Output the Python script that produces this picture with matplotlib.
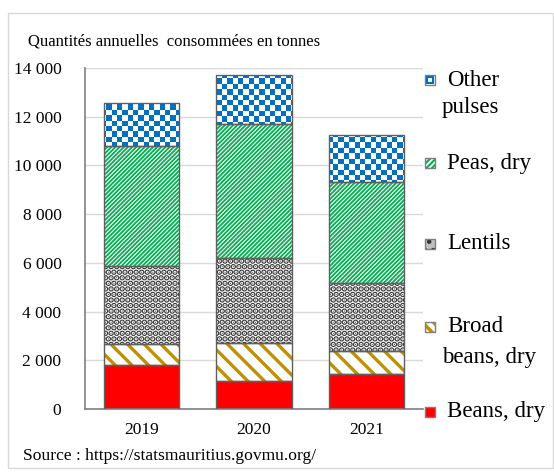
import numpy as np
import matplotlib
matplotlib.use('Agg')
import matplotlib.pyplot as plt
from matplotlib.colors import ListedColormap
from matplotlib.patches import Rectangle
from matplotlib.ticker import FuncFormatter

years   = ['2019', '2020', '2021']
beans   = [1800, 1150, 1430]
broad   = [870, 1545, 960]
lentils = [3200, 3500, 2765]
peas    = [4910, 5525, 4185]
other   = [1790, 1980, 1900]
yticks  = [0, 2000, 4000, 6000, 8000, 10000, 12000, 14000]

plt.rcParams['font.family'] = 'Liberation Serif'
W, H = 554, 475
fig = plt.figure(figsize=(W/100, H/100), dpi=100)
fx = lambda px: px/W
fy = lambda py: 1 - py/H

ax = fig.add_axes([fx(85), fy(409), fx(423)-fx(85), fy(68)-fy(409)])
x = np.arange(len(years)); bw = 0.667; EDGE = '#5f5f5f'

b0 = np.zeros(3)
# beans, solid red
ax.bar(x, beans, bw, bottom=b0, color='#ff0000', lw=0, zorder=2)
ax.bar(x, beans, bw, bottom=b0, fill=False, ec=EDGE, lw=1, zorder=4)
b1 = b0 + beans
plt.rcParams['hatch.linewidth'] = 2.4
ax.bar(x, broad, bw, bottom=b1, color='white', ec='#bf9000', hatch='\\\\', lw=0, zorder=2)
ax.bar(x, broad, bw, bottom=b1, fill=False, ec=EDGE, lw=1, zorder=4)
b2 = b1 + broad
plt.rcParams['hatch.linewidth'] = 3.0
ax.bar(x, lentils, bw, bottom=b2, color='white', ec='#3a3a3a', hatch='...', lw=0, zorder=2)
ax.bar(x, lentils, bw, bottom=b2, fill=False, ec=EDGE, lw=1, zorder=4)
b3 = b2 + lentils
plt.rcParams['hatch.linewidth'] = 1.3
ax.bar(x, peas, bw, bottom=b3, color='white', ec='#00b050', hatch='////////', lw=0, zorder=2)
ax.bar(x, peas, bw, bottom=b3, fill=False, ec=EDGE, lw=1, zorder=4)
b4 = b3 + peas
obars = ax.bar(x, other, bw, bottom=b4, color='white', lw=0, zorder=2)
ax.bar(x, other, bw, bottom=b4, fill=False, ec=EDGE, lw=1, zorder=4)

# checkerboard fill for "Other pulses"
chk = np.indices((64, 64)).sum(0) % 2
for p in obars:
    im = ax.imshow(chk, cmap=ListedColormap(['white', '#0070c0']), extent=(-0.5, 2.5, 0, 14000),
                   aspect='auto', interpolation='nearest', zorder=3)
    im.set_clip_path(p)

ax.set_xlim(-0.5, 2.5); ax.set_ylim(0, 14000)
ax.set_xticks(x); ax.set_xticklabels(years)
ax.set_yticks(yticks)
ax.yaxis.set_major_formatter(FuncFormatter(lambda v, p: f'{int(v):,}'.replace(',', ' ')))
ax.tick_params(axis='y', length=0, pad=17, labelsize=12.5)
ax.tick_params(axis='x', length=0, pad=9, labelsize=12.5)
ax.grid(axis='y', color='#d9d9d9', lw=1, zorder=0)
ax.set_axisbelow(True)
for s in ['top', 'right']: ax.spines[s].set_visible(False)
for s in ['left', 'bottom']: ax.spines[s].set_color('#808080'); ax.spines[s].set_linewidth(1.2)

# outer frame
fig.add_artist(Rectangle((fx(8), fy(468)), fx(553)-fx(8), fy(13)-fy(468), transform=fig.transFigure,
                         fill=False, ec='#d9d9d9', lw=1))

fig.text(fx(28), fy(42), 'Quantités annuelles  consommées en tonnes', fontsize=12, va='center', ha='left')
fig.text(fx(23), fy(456), 'Source : https://statsmauritius.govmu.org/', fontsize=12.6, va='center', ha='left')

# legend, drawn by hand
def marker(yc, fc, ec, hatch=None, hlw=1.0):
    plt.rcParams['hatch.linewidth'] = hlw
    fig.add_artist(Rectangle((fx(425), fy(yc+5)), fx(10), fy(0)-fy(10), transform=fig.transFigure,
                             fc=fc, ec=ec, hatch=hatch, lw=0))
    fig.add_artist(Rectangle((fx(425), fy(yc+5)), fx(10), fy(0)-fy(10), transform=fig.transFigure,
                             fill=False, ec='#7f7f7f', lw=1))

marker(80, 'white', '#0070c0')
fig.add_artist(Rectangle((fx(427), fy(83)), fx(6), fy(0)-fy(6), transform=fig.transFigure, fill=False, ec='#0070c0', lw=1.5))
marker(163, 'white', '#00b050', '//////', 1.5)
marker(244, '#c0c0c0', '#303030', '..', 2.0)
marker(327, 'white', '#bf9000', '\\\\\\', 2.5)
marker(412, '#ff0000', '#ff0000')

LFS = 16.5
fig.text(fx(447), fy(80), 'Other', fontsize=LFS, va='center')
fig.text(fx(442), fy(108), 'pulses', fontsize=LFS, va='center')
fig.text(fx(447), fy(163), 'Peas, dry', fontsize=LFS, va='center')
fig.text(fx(447), fy(244), 'Lentils', fontsize=LFS, va='center')
fig.text(fx(447), fy(327), 'Broad', fontsize=LFS, va='center')
fig.text(fx(442), fy(357), 'beans, dry', fontsize=LFS, va='center')
fig.text(fx(447), fy(412), 'Beans, dry', fontsize=LFS, va='center')

fig.savefig('out.png', dpi=100)
